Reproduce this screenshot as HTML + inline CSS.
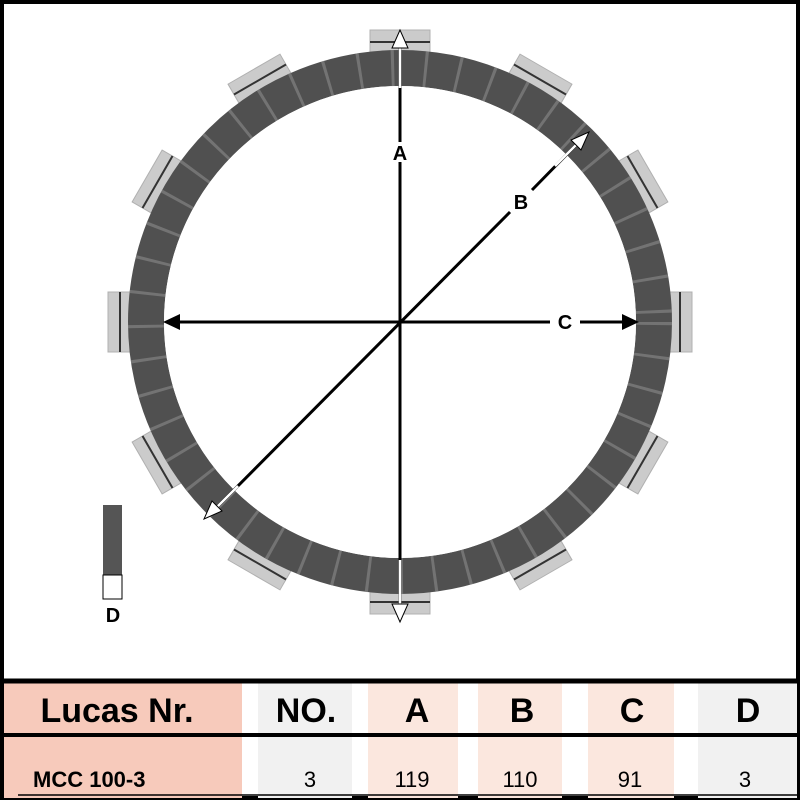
<!DOCTYPE html>
<html><head><style>
body{margin:0;width:800px;height:800px;background:#fff;overflow:hidden;font-family:"Liberation Sans",Arial,sans-serif}
</style></head><body>
<svg width="800" height="800" viewBox="0 0 800 800" xmlns="http://www.w3.org/2000/svg">
<rect x="2" y="2" width="796" height="796" fill="#fff" stroke="#000" stroke-width="4"/>
<g transform="translate(400,322)">
<g id="tabs" fill="#cbcbcb" stroke="#b0b0b0" stroke-width="1">
<g transform="rotate(0)"><rect x="-30" y="-292" width="60" height="40"/><line x1="-30" y1="-280" x2="30" y2="-280" stroke="#333" stroke-width="2"/></g>
<g transform="rotate(30)"><rect x="-30" y="-292" width="60" height="40"/><line x1="-30" y1="-280" x2="30" y2="-280" stroke="#333" stroke-width="2"/></g>
<g transform="rotate(60)"><rect x="-30" y="-292" width="60" height="40"/><line x1="-30" y1="-280" x2="30" y2="-280" stroke="#333" stroke-width="2"/></g>
<g transform="rotate(90)"><rect x="-30" y="-292" width="60" height="40"/><line x1="-30" y1="-280" x2="30" y2="-280" stroke="#333" stroke-width="2"/></g>
<g transform="rotate(120)"><rect x="-30" y="-292" width="60" height="40"/><line x1="-30" y1="-280" x2="30" y2="-280" stroke="#333" stroke-width="2"/></g>
<g transform="rotate(150)"><rect x="-30" y="-292" width="60" height="40"/><line x1="-30" y1="-280" x2="30" y2="-280" stroke="#333" stroke-width="2"/></g>
<g transform="rotate(180)"><rect x="-30" y="-292" width="60" height="40"/><line x1="-30" y1="-280" x2="30" y2="-280" stroke="#333" stroke-width="2"/></g>
<g transform="rotate(210)"><rect x="-30" y="-292" width="60" height="40"/><line x1="-30" y1="-280" x2="30" y2="-280" stroke="#333" stroke-width="2"/></g>
<g transform="rotate(240)"><rect x="-30" y="-292" width="60" height="40"/><line x1="-30" y1="-280" x2="30" y2="-280" stroke="#333" stroke-width="2"/></g>
<g transform="rotate(270)"><rect x="-30" y="-292" width="60" height="40"/><line x1="-30" y1="-280" x2="30" y2="-280" stroke="#333" stroke-width="2"/></g>
<g transform="rotate(300)"><rect x="-30" y="-292" width="60" height="40"/><line x1="-30" y1="-280" x2="30" y2="-280" stroke="#333" stroke-width="2"/></g>
<g transform="rotate(330)"><rect x="-30" y="-292" width="60" height="40"/><line x1="-30" y1="-280" x2="30" y2="-280" stroke="#333" stroke-width="2"/></g>
</g>
<circle r="254" fill="none" stroke="#505050" stroke-width="36"/>
<circle r="254" fill="none" stroke="#8a8a8a" stroke-width="36" stroke-dasharray="3 30" opacity="0.6"/>
<circle r="236" fill="#fff"/>
</g>
<g stroke="#000" stroke-width="3" fill="none">
<line x1="400" y1="44" x2="400" y2="142"/><line x1="400" y1="162" x2="400" y2="610"/>
<line x1="176" y1="322" x2="550" y2="322"/><line x1="580" y1="322" x2="626" y2="322"/>
<line x1="578" y1="143" x2="532" y2="190"/><line x1="510" y1="212" x2="216" y2="508"/>
</g>
<g stroke="#fff" stroke-width="2.5"><line x1="400" y1="44" x2="400" y2="88"/><line x1="400" y1="560" x2="400" y2="610"/><line x1="578" y1="143" x2="555" y2="166"/><line x1="216" y1="508" x2="238" y2="486"/></g>
<g fill="#fff" stroke="#000" stroke-width="1">
<polygon points="400,30 392,48 408,48"/><polygon points="400,622 392,604 408,604"/>
<polygon points="589,132 571,140 581,150"/><polygon points="204,519 222,511 212,501"/>
</g>
<polygon points="163,322 180,314 180,330" fill="#000"/><polygon points="639,322 622,314 622,330" fill="#000"/>
<g font-weight="bold" font-size="20" text-anchor="middle" fill="#000">
<text x="400" y="160">A</text><text x="521" y="209">B</text><text x="565" y="329">C</text><text x="113" y="622">D</text>
</g>
<rect x="103" y="505" width="19" height="70" fill="#555"/>
<rect x="103" y="575" width="19" height="24" fill="#fff" stroke="#000" stroke-width="1"/>
<rect x="4" y="683" width="238" height="115" fill="#f7cabb"/>
<rect x="258" y="683" width="94" height="115" fill="#f1f1f1"/>
<rect x="368" y="683" width="90" height="115" fill="#fbe7de"/>
<rect x="478" y="683" width="84" height="115" fill="#fbe7de"/>
<rect x="588" y="683" width="86" height="115" fill="#fbe7de"/>
<rect x="698" y="683" width="99" height="115" fill="#f1f1f1"/>
<line x1="0" y1="681" x2="800" y2="681" stroke="#000" stroke-width="5"/>
<line x1="0" y1="735" x2="800" y2="735" stroke="#000" stroke-width="4"/>
<line x1="18" y1="795" x2="800" y2="795" stroke="#000" stroke-width="1.5"/>
<g font-weight="bold" font-size="34" fill="#000" text-anchor="middle">
<text x="117" y="722">Lucas Nr.</text><text x="306" y="722">NO.</text><text x="417" y="722">A</text><text x="522" y="722">B</text><text x="632" y="722">C</text><text x="748" y="722">D</text>
</g>
<text x="33" y="787" font-weight="bold" font-size="22" fill="#000">MCC 100-3</text>
<g font-size="22" fill="#000" text-anchor="middle">
<text x="310" y="787">3</text><text x="412" y="787">119</text><text x="520" y="787">110</text><text x="630" y="787">91</text><text x="745" y="787">3</text>
</g>
</svg>
</body></html>
